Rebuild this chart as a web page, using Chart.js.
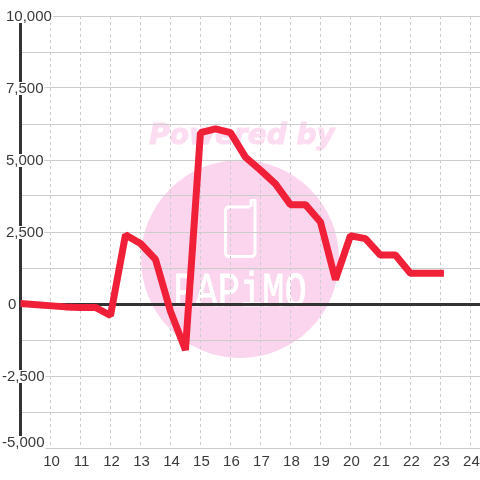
<!DOCTYPE html>
<html>
<head>
<meta charset="utf-8">
<script src="https://cdn.jsdelivr.net/npm/chart.js@4"></script>
<style>
  html, body { margin: 0; padding: 0; background: #fff; }
  #wrap { width: 480px; height: 480px; }
</style>
</head>
<body>
<div id="wrap"><canvas id="chart"></canvas></div>
<script>
const hours = [9, 10.5, 11, 11.5, 12, 12.5, 13, 13.5, 14, 14.5, 15, 15.5, 16, 16.5, 17, 17.5, 18, 18.5, 19, 19.5, 20, 20.5, 21, 21.5, 22, 22.5, 23]
const values = [20, -100, -120, -120, -400, 2400, 2100, 1550, -250, -1600, 5950, 6080, 5950, 5100, 4650, 4170, 3450, 3450, 2850, 850, 2370, 2270, 1700, 1700, 1070, 1070, 1070]
const xTicks = [10, 11, 12, 13, 14, 15, 16, 17, 18, 19, 20, 21, 22, 23, 24]
const yTicks = [10000, 7500, 5000, 2500, 0, -2500, -5000]

const font = 'Liberation Sans'
const textColor = '#3a3a3a'
const axisColor = '#333'
const gridColor = '#ccc'

// pink watermark sits under the grid
const watermark = {
  id: 'watermark',
  beforeDraw(chart) {
    const ctx = chart.ctx
    ctx.save()
    ctx.fillStyle = '#fff'
    ctx.fillRect(0, 0, 480, 480)
    ctx.fillStyle = '#fbd5ed'
    ctx.beginPath()
    ctx.arc(240, 259, 99, 0, Math.PI * 2)
    ctx.fill()

    ctx.fillStyle = ctx.strokeStyle = '#fcdcf0'
    ctx.font = 'italic bold 28px "DejaVu Sans"'
    ctx.textAlign = 'center'
    ctx.lineWidth = 1
    ctx.fillText('Powered by', 242, 144)
    ctx.strokeText('Powered by', 242, 144)

    // phone icon with its antenna
    ctx.strokeStyle = '#fff'
    ctx.lineWidth = 3
    ctx.lineJoin = 'round'
    ctx.beginPath()
    ctx.moveTo(250, 207)
    ctx.lineTo(229, 207)
    ctx.quadraticCurveTo(225.5, 207, 225.5, 211)
    ctx.lineTo(225.5, 252)
    ctx.quadraticCurveTo(225.5, 256.5, 229, 256.5)
    ctx.lineTo(251, 256.5)
    ctx.quadraticCurveTo(255, 256.5, 255, 252)
    ctx.lineTo(255, 200.5)
    ctx.lineTo(251, 200.5)
    ctx.lineTo(251, 207)
    ctx.stroke()

    ctx.fillStyle = '#fff'
    ctx.lineWidth = 0.6
    ctx.translate(240, 306)
    ctx.scale(1, 1.3)
    ctx.font = '37px "Liberation Mono"'
    ctx.fillText('PAPiMO', 0, 0)
    ctx.strokeText('PAPiMO', 0, 0)
    ctx.restore()
  }
}

// y labels have a white box behind them and cut the axis and the grid
const yLabels = {
  id: 'yLabels',
  beforeDatasetsDraw(chart) {
    const ctx = chart.ctx
    const y = chart.scales.y
    ctx.save()
    ctx.font = '15px "' + font + '"'
    ctx.textAlign = 'left'
    ctx.textBaseline = 'middle'
    yTicks.forEach(v => {
      const text = v.toLocaleString('en-US')
      const left = v < 0 ? 2 : v === 0 ? 8 : 6
      const top = y.getPixelForValue(v) - (v === -5000 ? 6 : 0)
      ctx.fillStyle = '#fff'
      ctx.fillRect(left, top - 6, ctx.measureText(text).width + 1, 13)
      ctx.fillStyle = textColor
      ctx.fillText(text, left, top + 1)
    })
    ctx.restore()
  }
}

new Chart(document.getElementById('chart'), {
  type: 'line',
  data: {
    datasets: [{
      data: hours.map((h, i) => ({ x: h, y: values[i] })),
      borderColor: '#f02039',
      borderWidth: 7,
      borderCapStyle: 'square',
      borderJoinStyle: 'bevel',
      pointRadius: 0,
      tension: 0
    }]
  },
  options: {
    responsive: true,
    maintainAspectRatio: false,
    animation: false,
    layout: { padding: { top: 16, right: 0, bottom: 0, left: 0 } },
    plugins: { legend: { display: false }, title: { display: false }, tooltip: { enabled: false } },
    scales: {
      x: {
        type: 'linear',
        min: 9,
        max: 24.32,
        afterFit: scale => {
          scale.height = 32
          scale.paddingLeft = 0
          scale.paddingRight = 0
        },
        border: { color: gridColor, width: 1, dash: [3, 3] },
        grid: { color: gridColor, lineWidth: 1, drawTicks: false },
        ticks: {
          stepSize: 1,
          includeBounds: false,
          autoSkip: false,
          maxRotation: 0,
          padding: 5,
          labelOffset: 1,
          color: textColor,
          font: { family: font, size: 15 },
          callback: v => xTicks.includes(v) ? String(v) : ''
        }
      },
      y: {
        min: -5000,
        max: 10000,
        afterFit: scale => { scale.width = 20.5 },
        border: { color: axisColor, width: 3 },
        grid: {
          drawTicks: false,
          color: c => c.tick && c.tick.value === 0 ? axisColor : gridColor,
          lineWidth: c => c.tick && c.tick.value === 0 ? 3 : 1
        },
        ticks: { stepSize: 1250, display: false }
      }
    }
  },
  plugins: [watermark, yLabels]
})
</script>
</body>
</html>
